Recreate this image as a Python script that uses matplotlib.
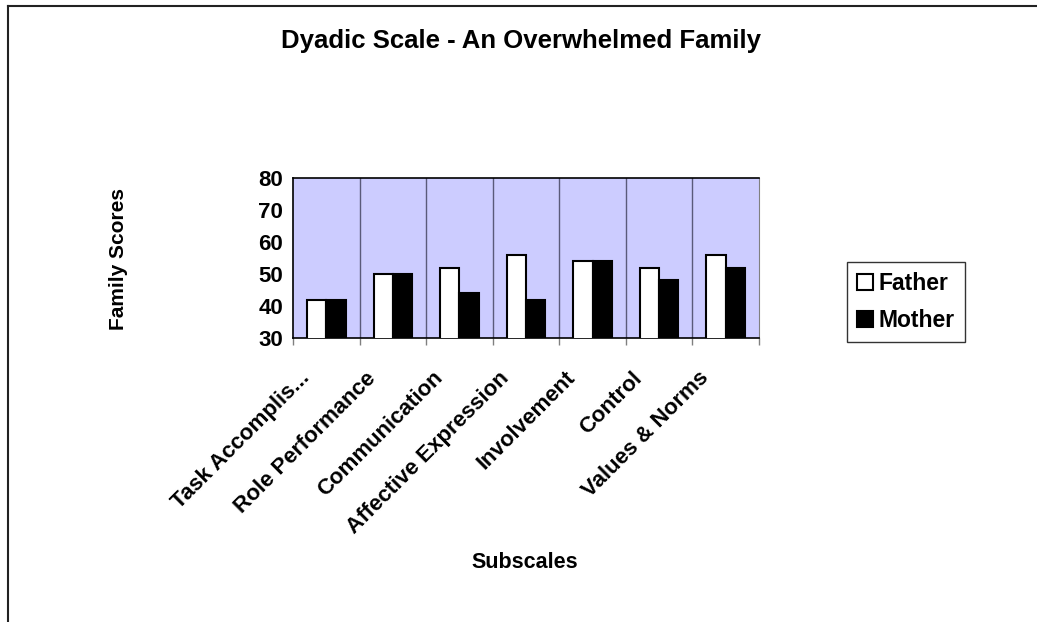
import numpy as np
import matplotlib
matplotlib.use("Agg")
import matplotlib.pyplot as plt
from matplotlib.lines import Line2D
from matplotlib.ticker import FixedLocator
from matplotlib.transforms import ScaledTranslation

plt.rcParams['font.family'] = ['Liberation Sans', 'DejaVu Sans']

subscales = ['Task Accomplis...', 'Role Performance', 'Communication',
             'Affective Expression', 'Involvement', 'Control', 'Values & Norms']
father = [42, 50, 52, 56, 54, 52, 56]
mother = [42, 50, 44, 42, 54, 48, 52]

fig = plt.figure(figsize=(10.37, 6.22), dpi=100)
ax = fig.add_axes([293 / 1037, 1 - 338 / 622, 466 / 1037, 160 / 622])
ax.set_facecolor('#CCCCFF')

x = np.arange(len(subscales))
w = 0.29
ax.bar(x - w / 2, father, w, color='white', edgecolor='black', linewidth=1.5,
       label='Father', zorder=3)
ax.bar(x + w / 2, mother, w, color='black', edgecolor='black', linewidth=1.5,
       label='Mother', zorder=3)

ax.set_xlim(-0.5, len(subscales) - 0.5)
ax.set_ylim(30, 80)
ax.set_yticks([30, 40, 50, 60, 70, 80])
ax.tick_params(axis='y', length=0, pad=7, labelsize=16)
for t in ax.get_yticklabels():
    t.set_fontweight('bold')

# category boundaries: grid lines and tick marks
bounds = np.arange(len(subscales) + 1) - 0.5
for b in bounds[1:-1]:
    ax.axvline(b, color='#5a5a7a', linewidth=1, zorder=1)
ax.xaxis.set_minor_locator(FixedLocator(bounds))
ax.tick_params(axis='x', which='minor', length=5, color='#808080', width=1)
ax.set_xticks(x)
ax.set_xticklabels(subscales, rotation=45, ha='right', va='center',
                   rotation_mode='anchor', fontsize=16, fontweight='bold')
ax.tick_params(axis='x', which='major', length=0, pad=0)
shift = ScaledTranslation(-20 / 100, -37 / 100, fig.dpi_scale_trans)
for t in ax.get_xticklabels():
    t.set_transform(t.get_transform() + shift)

for s in ['left', 'bottom', 'top']:
    ax.spines[s].set_color('black')
    ax.spines[s].set_linewidth(1.2)
ax.spines['right'].set_color('#808080')

fig.text(521 / 1037, 1 - 41 / 622, 'Dyadic Scale - An Overwhelmed Family',
         ha='center', va='center', fontsize=18.5, fontweight='bold')
fig.text(118 / 1037, 1 - 259 / 622, 'Family Scores', rotation=90,
         ha='center', va='center', fontsize=15, fontweight='bold')
fig.text(525 / 1037, 1 - 562 / 622, 'Subscales',
         ha='center', va='center', fontsize=15.5, fontweight='bold')

leg = fig.legend(loc='center', bbox_to_anchor=(906 / 1037, 1 - 302 / 622),
                 frameon=True, fancybox=False, edgecolor='black',
                 prop={'weight': 'bold', 'size': 16.5}, handlelength=0.7,
                 handleheight=0.7, handletextpad=0.25, borderpad=0.45,
                 labelspacing=0.6, borderaxespad=0)
leg.get_frame().set_linewidth(1)

# outer frame (left and top edges visible)
fig.add_artist(Line2D([8 / 1037, 8 / 1037], [0, 1 - 6 / 622], color='#222222', linewidth=1.5))
fig.add_artist(Line2D([8 / 1037, 1036 / 1037], [1 - 6 / 622, 1 - 6 / 622], color='#222222', linewidth=1.5))

fig.savefig('out.png', dpi=100)
